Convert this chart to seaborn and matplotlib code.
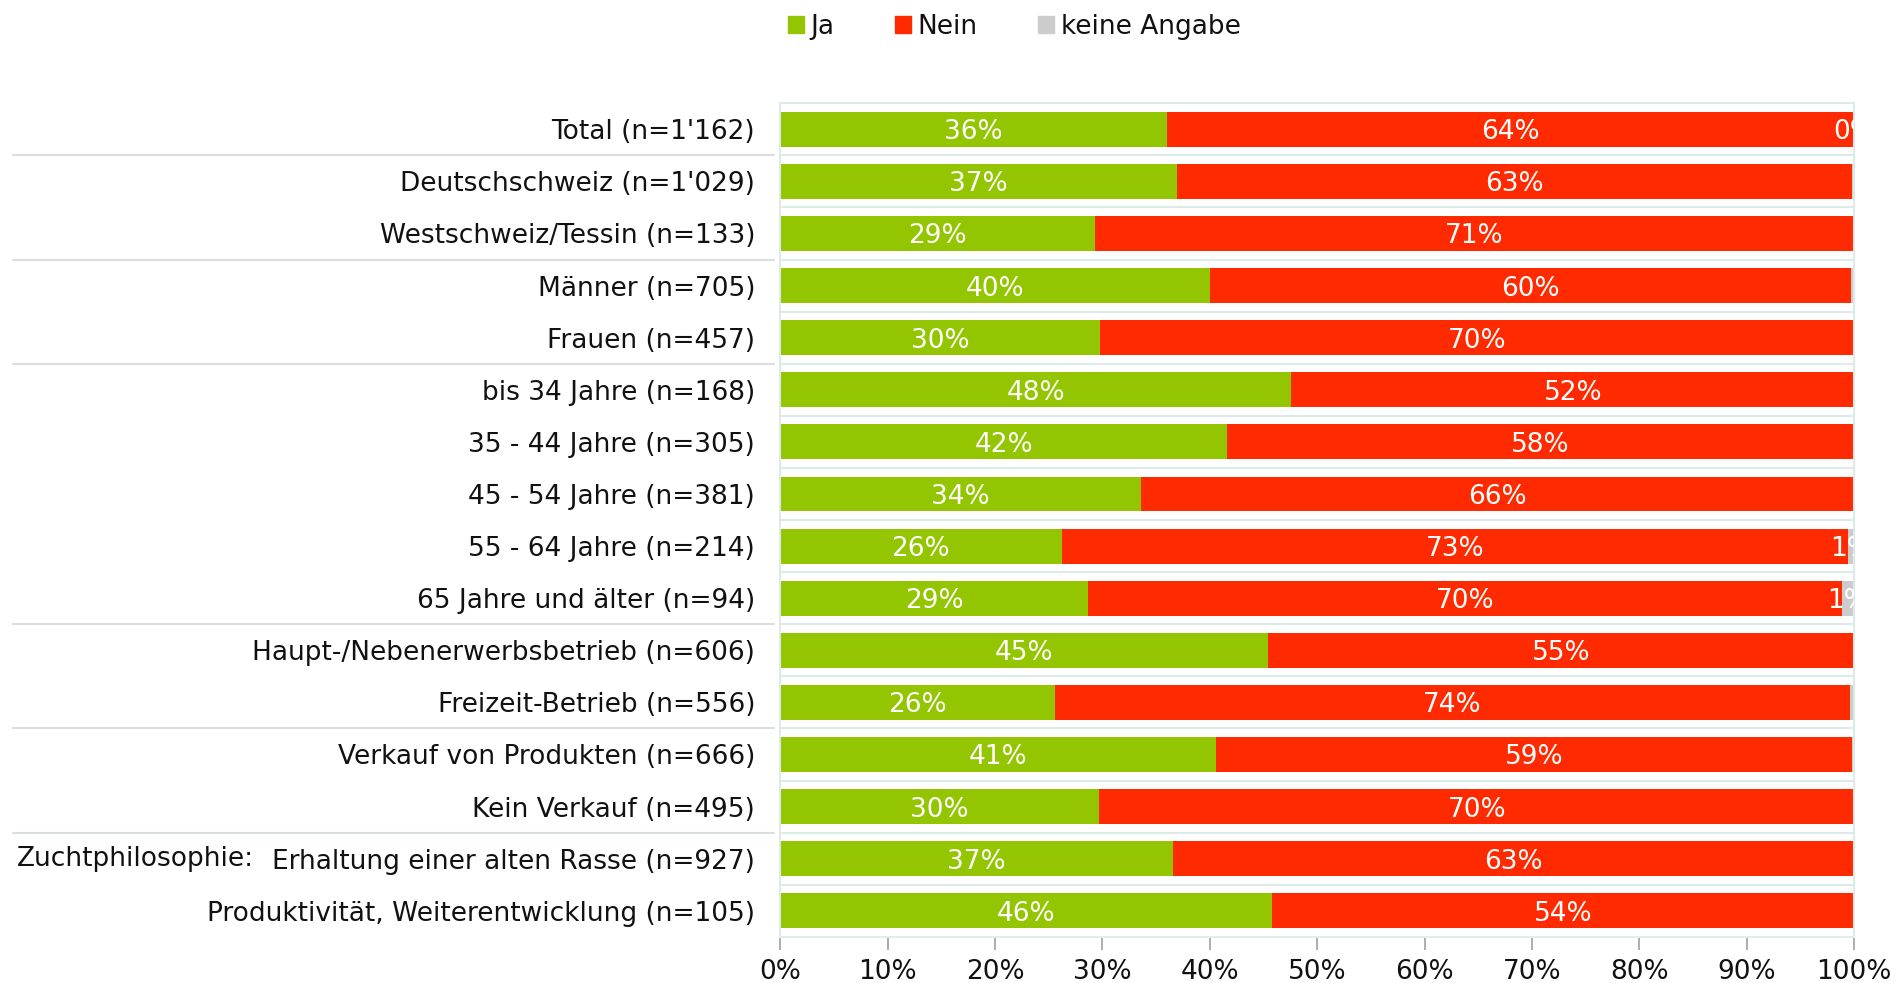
import matplotlib

matplotlib.use("Agg")
import matplotlib.pyplot as plt
import matplotlib.transforms as mtransforms
import pandas as pd
import seaborn as sns
from matplotlib.patches import Patch
from matplotlib.ticker import FuncFormatter

# Data (percent shares per group)
categories = [
    "Total (n=1'162)",
    "Deutschschweiz (n=1'029)",
    "Westschweiz/Tessin (n=133)",
    "Männer (n=705)",
    "Frauen (n=457)",
    "bis 34 Jahre (n=168)",
    "35 - 44 Jahre (n=305)",
    "45 - 54 Jahre (n=381)",
    "55 - 64 Jahre (n=214)",
    "65 Jahre und älter (n=94)",
    "Haupt-/Nebenerwerbsbetrieb (n=606)",
    "Freizeit-Betrieb (n=556)",
    "Verkauf von Produkten (n=666)",
    "Kein Verkauf (n=495)",
    "Erhaltung einer alten Rasse (n=927)",
    "Produktivität, Weiterentwicklung (n=105)",
]
ja = [36.0, 36.9, 29.3, 40.0, 29.8, 47.6, 41.6, 33.6, 26.2, 28.7, 45.4, 25.6, 40.6, 29.7, 36.6, 45.8]
nein = [64.0, 62.9, 70.7, 59.7, 70.2, 52.4, 58.4, 66.4, 73.2, 70.2, 54.6, 74.0, 59.2, 70.3, 63.3, 54.2]
keine = [0.0, 0.2, 0.0, 0.3, 0.0, 0.0, 0.0, 0.0, 0.6, 1.1, 0.0, 0.4, 0.2, 0.0, 0.1, 0.0]
keine_labels = ["0%", "", "", "", "", "", "", "", "1%", "1%", "", "", "", "", "", ""]
group_breaks = [0.5, 2.5, 4.5, 9.5, 11.5, 13.5]

GREEN = "#93c600"
RED = "#ff2a00"
GREY = "#cccccc"
PALE = "#dcebe8"
FS = 19

df = pd.DataFrame({"category": categories, "ja": ja, "nein": nein, "keine": keine})
df["ja_nein"] = df["ja"] + df["nein"]
df["total"] = df["ja_nein"] + df["keine"]

sns.set_style("white")
plt.rcParams["font.family"] = ["DejaVu Sans"]
plt.rcParams["text.color"] = "#111111"
plt.rcParams["xtick.labelcolor"] = "#111111"
plt.rcParams["ytick.labelcolor"] = "#111111"

fig = plt.figure(figsize=(18.96, 9.83), dpi=100)
ax = fig.add_axes([0.4115, 0.047, 0.5665, 0.848])

# stacked bars: draw cumulative totals back to front
for col, color in [("total", GREY), ("ja_nein", RED), ("ja", GREEN)]:
    sns.barplot(data=df, y="category", x=col, color=color, orient="h",
                width=0.67, saturation=1, ax=ax, linewidth=0)

for i, row in df.iterrows():
    ax.text(row["ja"] / 2, i, f"{row['ja']:.0f}%", color="white", fontsize=FS,
            ha="center", va="center_baseline")
    ax.text(row["ja"] + row["nein"] / 2, i, f"{row['nein']:.0f}%", color="white",
            fontsize=FS, ha="center", va="center_baseline")
    if keine_labels[i]:
        ax.text(row["ja_nein"] + row["keine"] / 2, i, keine_labels[i], color="white",
                fontsize=FS, ha="center", va="center_baseline", clip_on=True)

ax.set_xlim(0, 100)
ax.set_ylim(len(categories) - 0.5, -0.5)
ax.set_xticks(range(0, 101, 10))
ax.xaxis.set_major_formatter(FuncFormatter(lambda v, _: f"{v:.0f}%"))
ax.set_xlabel("")
ax.set_ylabel("")

# pale row separators inside the plot
for y in range(len(categories) - 1):
    ax.axhline(y + 0.5, color=PALE, lw=1.5, zorder=0)

for side in ["top", "left", "right"]:
    ax.spines[side].set_color(PALE)
    ax.spines[side].set_linewidth(1.5)
ax.spines["bottom"].set_color("#e4ecea")
ax.spines["bottom"].set_linewidth(1.5)

ax.tick_params(axis="x", bottom=True, length=9, width=1.2, color="#a0a0a0",
               labelsize=FS, pad=7)
ax.tick_params(axis="y", left=False, length=0, labelsize=FS, pad=18)

# group separators in the label area
trans = mtransforms.blended_transform_factory(ax.transAxes, ax.transData)
for y in group_breaks:
    ax.plot([-0.714, -0.006], [y, y], color="#d8dfde", lw=1.5, transform=trans,
            clip_on=False)

ax.text(-0.711, 14.0, "Zuchtphilosophie:", transform=trans, fontsize=FS,
        ha="left", va="center")

handles = [Patch(color=GREEN, label="Ja"), Patch(color=RED, label="Nein"),
           Patch(color=GREY, label="keine Angabe")]
fig.legend(handles=handles, loc="center", bbox_to_anchor=(0.535, 0.973), ncol=3,
           frameon=False, fontsize=FS, handlelength=0.6, handleheight=0.6,
           handletextpad=0.25, columnspacing=2.3)

fig.savefig("out.png", dpi=100)
